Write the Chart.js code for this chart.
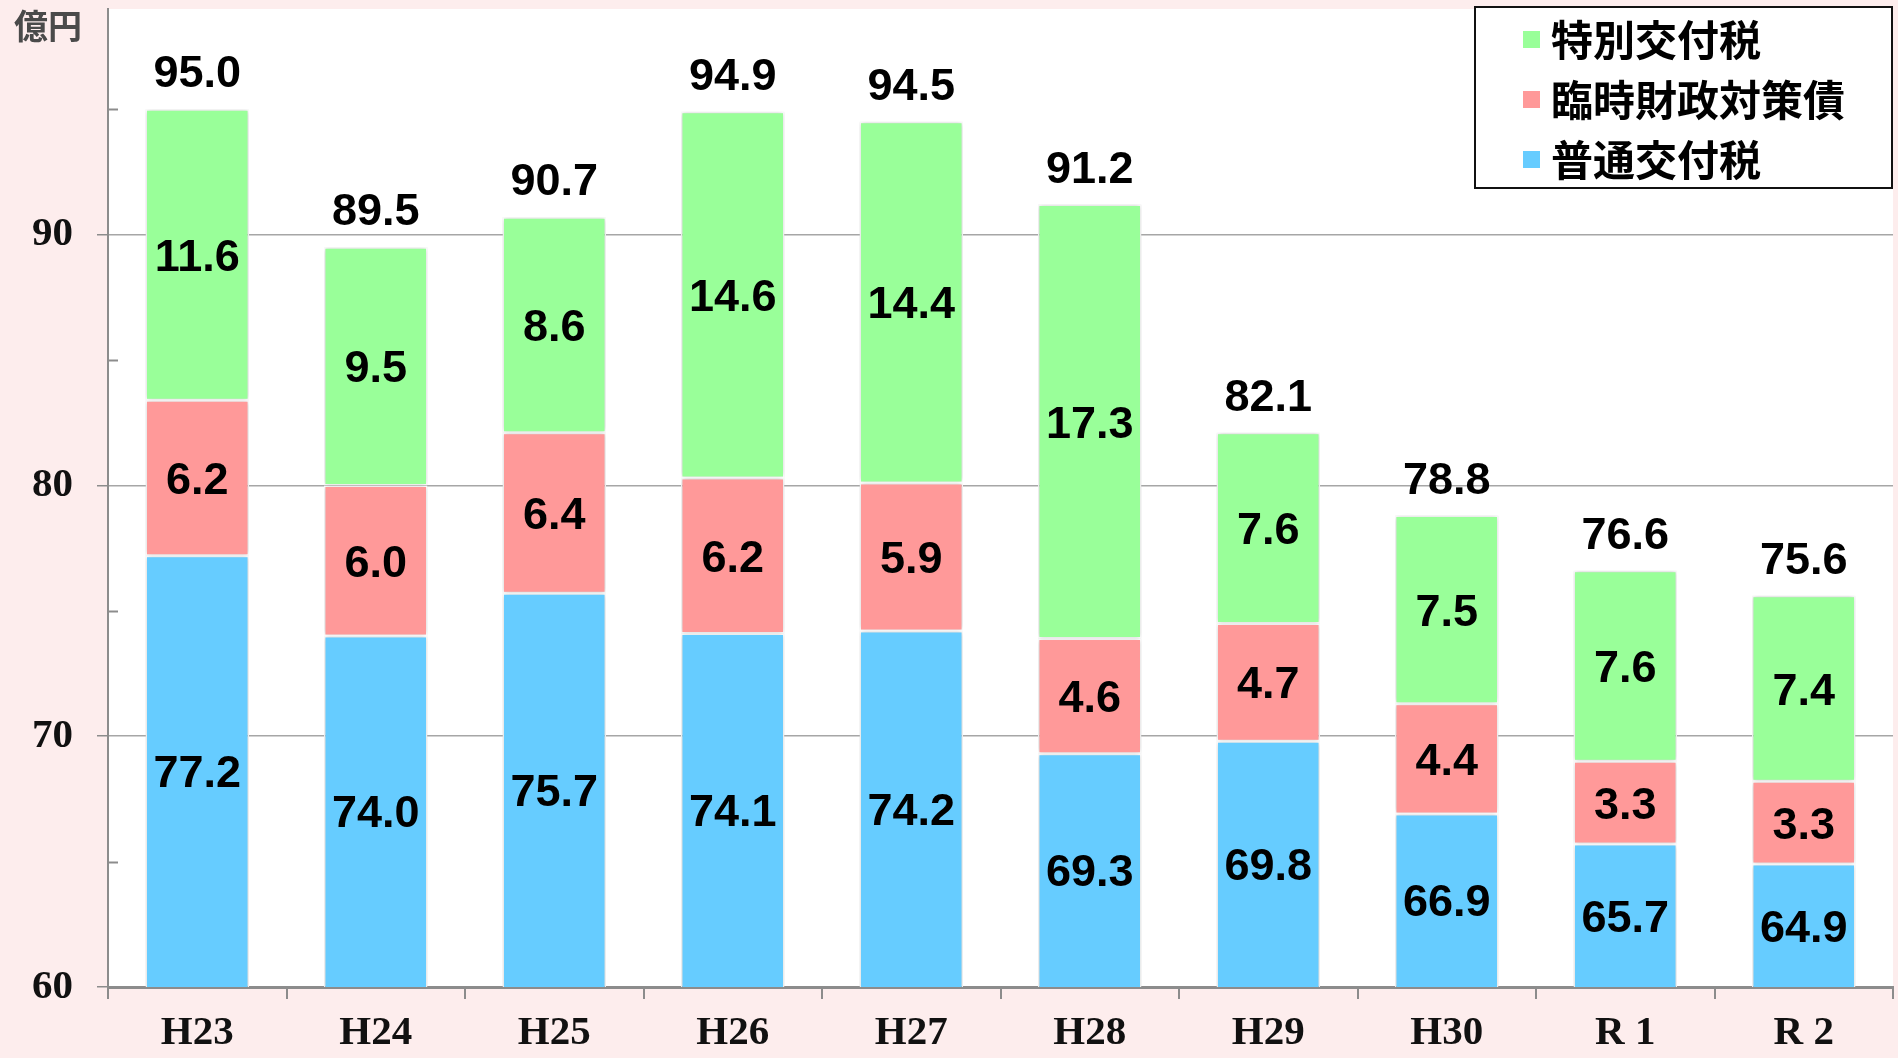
<!DOCTYPE html>
<html>
<head>
<meta charset="utf-8">
<script src="https://cdn.jsdelivr.net/npm/chart.js@4/dist/chart.umd.min.js"></script>
<style>
  html, body { margin: 0; padding: 0; background: #FDEDED; }
  #wrap { width: 1898px; height: 1058px; }
</style>
</head>
<body>
<div id="wrap"><canvas id="grant_chart"></canvas></div>
<script>
// years along the bottom
const years = ['H23', 'H24', 'H25', 'H26', 'H27', 'H28', 'H29', 'H30', 'R 1', 'R 2'];
// series, stacked bottom to top (億円)
const futsu = [77.2, 74.0, 75.7, 74.1, 74.2, 69.3, 69.8, 66.9, 65.7, 64.9];
const rinji = [6.2, 6.0, 6.4, 6.2, 5.9, 4.6, 4.7, 4.4, 3.3, 3.3];
const tokubetsu = [11.6, 9.5, 8.6, 14.6, 14.4, 17.3, 7.6, 7.5, 7.6, 7.4];
// totals printed above each bar
const totals = [95.0, 89.5, 90.7, 94.9, 94.5, 91.2, 82.1, 78.8, 76.6, 75.6];
// y axis: labelled every 10, small marks between
const yMin = 60;
const yMax = 99;
const minorTicks = [65, 75, 85, 95];
const unitLabel = '億円';

// white plot area on the pink page, plus a light shadow on the bars
const backdrop = {
    id: 'backdrop',
    beforeDraw(chart) {
        const {ctx, chartArea: a} = chart;
        ctx.save();
        ctx.fillStyle = '#FDEDED';
        ctx.fillRect(0, 0, chart.width, chart.height);
        ctx.fillStyle = '#ffffff';
        ctx.fillRect(a.left, a.top, a.right - a.left, a.bottom - a.top);
        ctx.restore();
    },
    beforeDatasetsDraw(chart) {
        const ctx = chart.ctx;
        ctx.save();
        ctx.shadowColor = 'rgba(0,0,0,0.22)';
        ctx.shadowBlur = 5;
    },
    afterDatasetsDraw(chart) {
        chart.ctx.restore();
    }
};

// numbers on the segments and totals above the bars
const barLabels = {
    id: 'barLabels',
    afterDatasetsDraw(chart) {
        const {ctx, chartArea: a} = chart;
        ctx.save();
        ctx.fillStyle = '#000';
        ctx.textAlign = 'center';
        ctx.textBaseline = 'alphabetic';
        ctx.font = 'bold 45px "Liberation Sans", Arial, sans-serif';
        chart.data.datasets.forEach((ds, i) => {
            chart.getDatasetMeta(i).data.forEach((bar, j) => {
                const bottom = Math.min(bar.base, a.bottom);
                const mid = (bar.y + bottom) / 2;
                ctx.fillText(ds.data[j].toFixed(1), bar.x, mid + 16);
            });
        });
        // totals sit on the top segment
        const top = chart.getDatasetMeta(chart.data.datasets.length - 1).data;
        top.forEach((bar, j) => {
            ctx.fillText(totals[j].toFixed(1), bar.x, bar.y - 22);
        });
        ctx.restore();
    }
};

// minor marks, unit text and the boxed legend
const extras = {
    id: 'extras',
    afterDraw(chart) {
        const {ctx, chartArea: a} = chart;
        const y = chart.scales.y;
        ctx.save();
        ctx.strokeStyle = '#8c8c8c';
        ctx.lineWidth = 2;
        minorTicks.forEach(v => {
            const py = Math.round(y.getPixelForValue(v)) + 0.5;
            ctx.beginPath();
            ctx.moveTo(a.left, py);
            ctx.lineTo(a.left + 10, py);
            ctx.stroke();
        });

        ctx.fillStyle = '#4a4a4a';
        ctx.font = 'bold 34px "Noto Sans CJK JP", sans-serif';
        ctx.textAlign = 'left';
        ctx.textBaseline = 'middle';
        ctx.fillText(unitLabel, 14, 26);

        // legend box, top-right
        const boxL = a.right - 418, boxT = 7, boxW = 417, boxH = 181;
        ctx.fillStyle = '#ffffff';
        ctx.fillRect(boxL, boxT, boxW, boxH);
        ctx.strokeStyle = '#111';
        ctx.lineWidth = 2;
        ctx.strokeRect(boxL, boxT, boxW, boxH);
        ctx.font = 'bold 42px "Noto Sans CJK JP", sans-serif';
        const items = chart.data.datasets.slice().reverse();
        items.forEach((ds, k) => {
            const cy = boxT + 33 + k * 60;
            ctx.fillStyle = ds.backgroundColor;
            ctx.fillRect(boxL + 48, cy - 9, 17, 17);
            ctx.fillStyle = '#000';
            ctx.fillText(ds.label, boxL + 76, cy);
        });
        ctx.restore();
    }
};

const ctx = document.getElementById('grant_chart');
new Chart(ctx, {
    type: 'bar',
    data: {
        labels: years,
        datasets: [
            {label: '普通交付税', data: futsu, backgroundColor: '#66CCFF'},
            {label: '臨時財政対策債', data: rinji, backgroundColor: '#FF9999'},
            {label: '特別交付税', data: tokubetsu, backgroundColor: '#99FF99'}
        ]
    },
    options: {
        responsive: true,
        maintainAspectRatio: false,
        animation: false,
        layout: { padding: { top: 9, right: 5, left: 0, bottom: 0 } },
        datasets: {
            bar: {
                barPercentage: 0.58,
                categoryPercentage: 1.0,
                borderColor: '#ffffff',
                borderWidth: 1.5,
                borderSkipped: false
            }
        },
        plugins: {
            legend: { display: false },
            tooltip: { enabled: false }
        },
        scales: {
            x: {
                stacked: true,
                afterFit(scale) {
                    scale.height = 71;
                    scale.paddingLeft = 0;
                    scale.paddingRight = 0;
                },
                grid: {
                    display: true,
                    drawOnChartArea: false,
                    drawTicks: true,
                    tickLength: 12,
                    color: '#8c8c8c',
                    lineWidth: 2
                },
                border: { display: true, color: '#8c8c8c', width: 3 },
                ticks: {
                    color: '#111',
                    padding: 10,
                    font: { family: '"Liberation Serif", "DejaVu Serif", serif', size: 41, weight: 'bold' }
                }
            },
            y: {
                stacked: true,
                min: yMin,
                max: yMax,
                afterFit(scale) {
                    scale.width = 108;
                    scale.paddingTop = 0;
                    scale.paddingBottom = 0;
                },
                grid: {
                    color: '#a6a6a6',
                    lineWidth: 1.5,
                    tickColor: '#8c8c8c',
                    tickLength: 11
                },
                border: { display: true, color: '#8c8c8c', width: 2 },
                ticks: {
                    stepSize: 10,
                    includeBounds: false,
                    padding: 24,
                    color: '#111',
                    font: { family: '"Liberation Serif", "DejaVu Serif", serif', size: 41, weight: 'bold' }
                }
            }
        }
    },
    plugins: [backdrop, barLabels, extras]
});
</script>
</body>
</html>
